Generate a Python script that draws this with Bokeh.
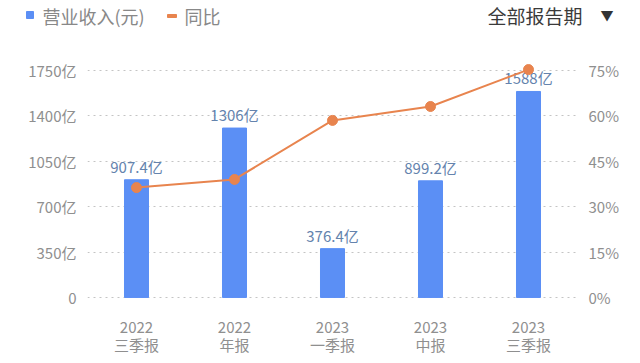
from bokeh.plotting import figure
from bokeh.layouts import column
from bokeh.models import (FactorRange, Range1d, LinearAxis, FixedTicker, ColumnDataSource)
from bokeh.embed import file_html
from bokeh.resources import INLINE
from bokeh.core.properties import value

categories = ["2022\n三季报", "2022\n年报", "2023\n一季报", "2023\n中报", "2023\n三季报"]
revenue = [907.4, 1306, 376.4, 899.2, 1588]
revenue_labels = ["907.4亿", "1306亿", "376.4亿", "899.2亿", "1588亿"]
yoy = [36.3, 39.0, 58.5, 63.1, 75.3]
left_ticks = [0, 350, 700, 1050, 1400, 1750]
left_tick_labels = ["0", "350亿", "700亿", "1050亿", "1400亿", "1750亿"]
right_ticks = [0, 15, 30, 45, 60, 75]
right_tick_labels = ["0%", "15%", "30%", "45%", "60%", "75%"]
series_names = ["营业收入(元)", "同比"]
period_text = "全部报告期"

FONT = "Noto Sans CJK SC"
BAR = "#5b8ff5"
LINE = "#e8844e"
TICK = "#8f8f8f"
HEAD_H = 30

# ---------------- header (legend + period selector) ----------------
h = figure(width=640, height=HEAD_H, x_range=Range1d(0, 640), y_range=Range1d(HEAD_H, 0),
           output_backend="svg", toolbar_location=None,
           min_border_left=0, min_border_right=0, min_border_top=0, min_border_bottom=0)
h.frame_align = False
h.axis.visible = False
h.grid.visible = False
h.outline_line_color = None
h.quad(left=[26], right=[33], top=[11], bottom=[18], color=BAR)
h.quad(left=[167], right=[176], top=[14], bottom=[17], color=LINE)
h.text(x=[42, 184], y=[15, 15], text=series_names, text_font=value(FONT),
       text_font_size="18px", text_color="#888888", text_baseline="middle")
h.text(x=[487], y=[15], text=[period_text], text_font=value(FONT),
       text_font_size="19px", text_color="#3a3a3a", text_baseline="middle")
h.text(x=[600], y=[14], text=["▼"], text_font=value(FONT),
       text_font_size="13px", text_color="#333333", text_baseline="middle")

# ---------------- main chart ----------------
y_start, y_end = -8, 1850
r_start = y_start * right_ticks[-1] / left_ticks[-1]
r_end = y_end * right_ticks[-1] / left_ticks[-1]

src = ColumnDataSource(dict(x=categories, rev=revenue, lab=revenue_labels, yoy=yoy))

p = figure(width=640, height=363 - HEAD_H, x_range=FactorRange(*categories, range_padding=0),
           y_range=Range1d(y_start, y_end), output_backend="svg", toolbar_location=None,
           min_border_left=87, min_border_right=63, min_border_top=57 - HEAD_H,
           min_border_bottom=65)
p.frame_align = False
p.outline_line_color = None
p.background_fill_color = "white"
p.border_fill_color = "white"
p.extra_y_ranges = {"pct": Range1d(r_start, r_end)}

p.vbar(x="x", top="rev", width=0.245, source=src, color=BAR)
p.text(x="x", y="rev", text="lab", source=src, text_align="center", text_baseline="bottom",
       y_offset=-3, text_font=value(FONT), text_font_size="15px", text_color="#6483ad")
p.line(x="x", y="yoy", source=src, y_range_name="pct", line_color=LINE, line_width=2)
p.scatter(x="x", y="yoy", source=src, y_range_name="pct", size=10, color=LINE)

p.xgrid.visible = False
p.ygrid.ticker = FixedTicker(ticks=left_ticks)
p.ygrid.grid_line_color = "#c4c4c4"
p.ygrid.grid_line_dash = "2 4"
p.ygrid.grid_line_width = 1.2

def style(ax):
    ax.axis_line_color = None
    ax.major_tick_line_color = None
    ax.minor_tick_line_color = None
    ax.major_tick_out = 0
    ax.major_tick_in = 0
    ax.minor_tick_out = 0
    ax.major_label_text_font = FONT
    ax.major_label_text_font_size = "15px"
    ax.major_label_text_color = TICK
    ax.major_label_standoff = 11

yl = p.yaxis[0]
yl.ticker = FixedTicker(ticks=left_ticks)
yl.major_label_overrides = {t: s for t, s in zip(left_ticks, left_tick_labels)}
style(yl)

yr = LinearAxis(y_range_name="pct", ticker=FixedTicker(ticks=right_ticks))
yr.major_label_overrides = {t: s for t, s in zip(right_ticks, right_tick_labels)}
style(yr)
p.add_layout(yr, "right")

xa = p.xaxis[0]
style(xa)
xa.major_label_standoff = 17
xa.major_label_text_line_height = 0.9

layout = column(h, p, spacing=0)
open("out.html", "w").write(file_html(layout, INLINE))
